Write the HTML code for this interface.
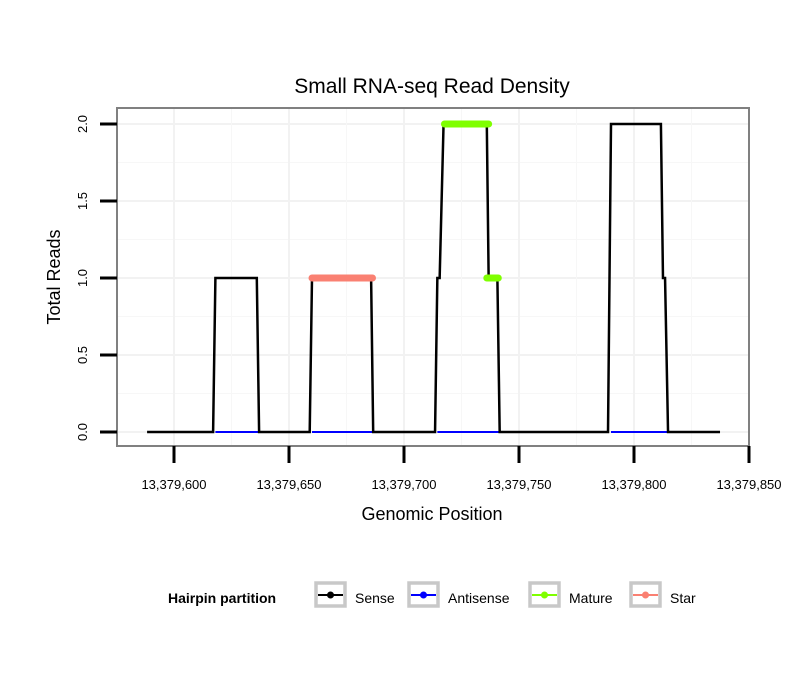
<!DOCTYPE html>
<html><head><meta charset="utf-8"><style>body{margin:0;background:#fff}svg text{font-family:"Liberation Sans",sans-serif}</style></head><body>
<svg width="810" height="690" xmlns="http://www.w3.org/2000/svg" id="c">
<text x="432" y="93" font-size="21" text-anchor="middle">Small RNA-seq Read Density</text>
<g id="grid"></g>
<rect x="117" y="108" width="632" height="338" fill="none" stroke="#808080" stroke-width="2"/>
<g id="marks"></g>
<g id="axes"></g>
<text x="432" y="520" font-size="18" text-anchor="middle">Genomic Position</text>
<text transform="translate(60,277) rotate(-90)" font-size="18" text-anchor="middle">Total Reads</text>
<g>
<text x="168" y="603" font-size="14" font-weight="bold">Hairpin partition</text>
<g id="legend"></g>
</g>
</svg>
<script>
const senseX=[588.3,617,618,636,637,659,660,685.7,686.6,713.5,714.5,715.5,717.2,736,736.8,740.6,741.6,788.7,790,811.7,812.6,813.5,814.8,837.4];
const senseY=[0,0,1,1,0,0,1,1,0,0,1,1,2,2,1,1,0,0,2,2,1,1,0,0];
const antisenseSegs=[[618,637],[660,686.6],[714.5,741.6],[790,814.8]];
const matureSegs=[[717.6,736.8,2],[736,741,1]];
const starSegs=[[660,686.3,1]];
const xTicks=[13379600,13379650,13379700,13379750,13379800,13379850];
const xTickLabels=["13,379,600","13,379,650","13,379,700","13,379,750","13,379,800","13,379,850"];
const yTicks=[0,0.5,1,1.5,2];
const yTickLabels=["0.0","0.5","1.0","1.5","2.0"];
const legendLabels=["Sense","Antisense","Mature","Star"];
const legendColors=["#000000","#0000ff","#7fff00","#fa8072"];
const base=13379000;
const X=v=>174+(v-600)*2.3;
const XA=v=>X(v-base);
const Y=v=>432-v*154;
const ns="http://www.w3.org/2000/svg";
function mk(p,t,a){const e=document.createElementNS(ns,t);for(const k in a)e.setAttribute(k,a[k]);document.getElementById(p).appendChild(e);return e;}
// grid
for(let i=0;i<yTicks.length;i++){const g=mk('grid','line',{x1:117,x2:749,y1:Y(yTicks[i]),y2:Y(yTicks[i]),stroke:'#f2f2f2','stroke-width':2});


if(i<yTicks.length-1){const m=mk('grid','line',{x1:117,x2:749,y1:Y((yTicks[i]+yTicks[i+1])/2),y2:Y((yTicks[i]+yTicks[i+1])/2),stroke:'#f7f7f7','stroke-width':1});

}}
for(let i=0;i<xTicks.length;i++){const g=mk('grid','line',{x1:XA(xTicks[i]),x2:XA(xTicks[i]),y1:108,y2:446,stroke:'#f2f2f2','stroke-width':2});


const m=mk('grid','line',{x1:XA(xTicks[i]-25),x2:XA(xTicks[i]-25),y1:108,y2:446,stroke:'#f7f7f7','stroke-width':1});

}
// antisense
antisenseSegs.forEach(s=>{const l=mk('marks','line',{x1:X(s[0]),x2:X(s[1]),y1:Y(0),y2:Y(0),stroke:'#0000ff','stroke-width':2});

});
// sense
const pts=senseX.map((x,i)=>X(x)+','+Y(senseY[i])).join(' ');
const sl=mk('marks','polyline',{points:pts,fill:'none',stroke:'#000','stroke-width':2.5});


// redraw antisense visible parts on top (where sense is elevated)
antisenseSegs.forEach(s=>{const l=mk('marks','line',{x1:X(s[0])+2,x2:X(s[1])-2,y1:Y(0),y2:Y(0),stroke:'#0000ff','stroke-width':2});

});
starSegs.forEach(s=>{const l=mk('marks','line',{x1:X(s[0]),x2:X(s[1]),y1:Y(s[2]),y2:Y(s[2]),stroke:'#fa8072','stroke-width':7,'stroke-linecap':'round'});

});
matureSegs.forEach(s=>{const l=mk('marks','line',{x1:X(s[0]),x2:X(s[1]),y1:Y(s[2]),y2:Y(s[2]),stroke:'#7fff00','stroke-width':7,'stroke-linecap':'round'});

});
// axes
yTicks.forEach((v,i)=>{const t=mk('axes','line',{x1:100,x2:117,y1:Y(v),y2:Y(v),stroke:'#000','stroke-width':3});


const tx=mk('axes','text',{transform:`translate(87,${Y(v)}) rotate(-90)`,'font-size':13,'text-anchor':'middle'});tx.textContent=yTickLabels[i];

});
xTicks.forEach((v,i)=>{const t=mk('axes','line',{x1:XA(v),x2:XA(v),y1:446,y2:463,stroke:'#000','stroke-width':3});


const tx=mk('axes','text',{x:XA(v),y:489,'font-size':13,'text-anchor':'middle'});tx.textContent=xTickLabels[i];

});
// legend
const lx=[316,409,530,631];
legendLabels.forEach((lab,i)=>{const x=lx[i];
const b=mk('legend','rect',{x:x,y:583,width:29,height:23,fill:'#fff',stroke:'#c8c8c8','stroke-width':3.5});


mk('legend','line',{x1:x+2,x2:x+27,y1:595,y2:595,stroke:legendColors[i],'stroke-width':2});
mk('legend','circle',{cx:x+14.5,cy:595,r:3.5,fill:legendColors[i]});
const t=mk('legend','text',{x:x+39,y:603,'font-size':14});t.textContent=lab;

});
</script>
</body></html>
